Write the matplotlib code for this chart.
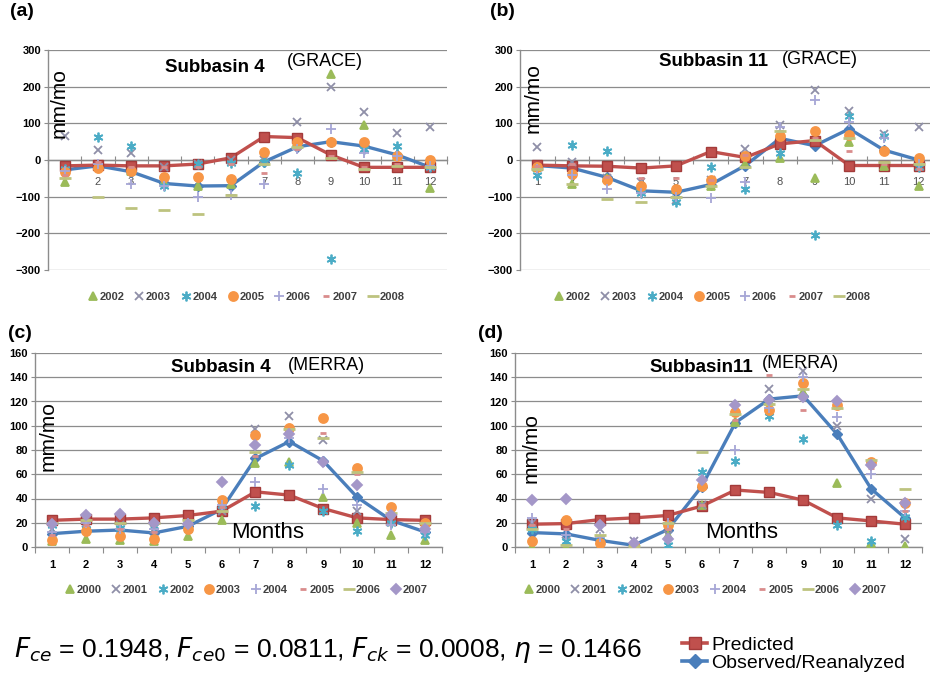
import numpy as np
import matplotlib.pyplot as plt
from matplotlib.lines import Line2D

plt.rcParams['font.family'] = ['Liberation Sans', 'DejaVu Sans']
plt.rcParams['mathtext.fontset'] = 'custom'
plt.rcParams['mathtext.rm'] = 'Liberation Sans Narrow'
plt.rcParams['mathtext.it'] = 'Liberation Sans Narrow:italic'

W, H = 930, 679

months = np.arange(1, 13)
grace_years = ['2002', '2003', '2004', '2005', '2006', '2007', '2008']
merra_years = ['2000', '2001', '2002', '2003', '2004', '2005', '2006', '2007']

# (a) Subbasin 4, GRACE
sub4_grace_pred = [-16, -14, -16, -16, -11, 6, 64, 61, 14, -20, -20, -20]
sub4_grace_obs = [-27, -16, -32, -64, -71, -70, -5, 36, 50, 38, 14, -20]
sub4_grace_years = [
    [-60, -15, -30, -60, -70, -65, 0, 50, 235, 95, 10, -75],
    [65, 28, 18, -20, -10, 0, 0, 104, 200, 130, 75, 90],
    [-25, 62, 37, -70, -10, -8, -5, -35, -270, 30, 38, -20],
    [-33, -22, -30, -45, -45, -52, 22, 48, 50, 48, 10, 0],
    [-30, -10, -65, -70, -100, -95, -65, 30, 85, 20, 10, -15],
    [-40, -5, -20, -20, -20, -10, -35, 30, 10, -20, -10, -20],
    [-50, -100, -130, -137, -148, -95, -10, 35, 5, -25, -15, -20],
]

# (b) Subbasin 11, GRACE
sub11_grace_pred = [-14, -16, -17, -22, -16, 23, 7, 44, 53, -15, -15, -15]
sub11_grace_obs = [-15, -22, -47, -84, -88, -67, -15, 59, 39, 85, 27, 0]
sub11_grace_years = [
    [-20, -65, -50, -70, -80, -70, -10, 5, -50, 50, -15, -70],
    [35, -5, -50, -60, -110, -55, 30, 95, 190, 135, 70, 90],
    [-40, 40, 25, -90, -115, -20, -80, 20, -205, 120, 65, -20],
    [-20, -38, -55, -70, -78, -55, 10, 65, 80, 68, 25, 5],
    [-25, -40, -80, -90, -100, -103, -60, 90, 165, 105, 60, -10],
    [-15, -10, -45, -50, -50, -55, 15, 80, 60, 25, -10, -25],
    [-25, -65, -105, -115, -100, -70, -20, 80, 55, 60, -5, -10],
]

# (c) Subbasin 4, MERRA
sub4_merra_pred = [22, 23, 23, 24, 26, 29.5, 45.5, 42.8, 31.7, 24, 22.6, 22]
sub4_merra_obs = [11, 13, 14, 11.6, 17, 31, 73, 87, 71, 41, 22, 12.4]
sub4_merra_years = [
    [5, 7, 6, 5, 9, 22, 69, 70, 41, 20, 10, 6],
    [15, 20, 18, 15, 18, 30, 97, 108, 88, 30, 22, 15],
    [18, 15, 16, 17, 15, 35, 34, 68, 30, 13, 20, 10],
    [6, 13, 9, 7, 15, 39, 92, 98, 106, 65, 33, 20],
    [12, 20, 15, 15, 20, 35, 54, 90, 48, 35, 18, 12],
    [10, 18, 15, 12, 20, 33, 75, 95, 94, 60, 25, 18],
    [20, 22, 20, 20, 22, 30, 78, 97, 90, 62, 28, 20],
    [19, 26, 27, 20, 19, 54, 84, 93, 70, 51, 26, 15],
]

# (d) Subbasin 11, MERRA
sub11_merra_pred = [18.8, 19.3, 22.6, 24, 26, 33.7, 47, 45, 38.6, 24, 21.5, 18.8]
sub11_merra_obs = [11.9, 10.8, 5.5, 1.4, 14.3, 49.7, 102.6, 122, 124.7, 93, 48, 24]
sub11_merra_years = [
    [0, 0, 0, 0, 10, 35, 103, 120, 128, 53, 3, 1],
    [20, 5, 15, 5, 10, 35, 115, 130, 145, 100, 40, 7],
    [15, 5, 5, 2, 2, 62, 71, 108, 89, 18, 5, 25],
    [5, 22, 3, 2, 18, 50, 111, 113, 135, 117, 70, 36],
    [24, 10, 8, 3, 20, 55, 80, 115, 140, 107, 60, 30],
    [18, 15, 20, 3, 15, 35, 105, 142, 113, 115, 65, 30],
    [15, 2, 10, 1, 20, 78, 110, 118, 130, 115, 72, 48],
    [39, 40, 18, 3, 7, 55, 117, 121, 124, 120, 68, 36],
]

stats_text = r'$F_{ce}$ = 0.1948, $F_{ce0}$ = 0.0811, $F_{ck}$ = 0.0008, $\eta$ = 0.1466'

# marker, colour, size
base_styles = [('^', '#9BBB59', 6), ('x', '#8F8FA8', 6), ((6, 2, 0), '#4BACC6', 7),
               ('o', '#F79646', 6.5), ('+', '#A6A6D6', 7)]
dash_styles = [('_', '#D98C8C', 5), ('_', '#BDC37F', 9)]
grace_styles = base_styles + dash_styles
merra_styles = base_styles + dash_styles + [('D', '#A497C8', 5)]

RED = '#C0504D'
BLUE = '#4A7EBB'
GRID = '#8C8C8C'


def fig_box(left, top, right, bottom):
    return [left / W, 1 - bottom / H, (right - left) / W, (bottom - top) / H]


def draw_panel(ax, pred, obs, years_vals, years, styles, grace):
    for vals, yr, (m, c, s) in zip(years_vals, years, styles):
        ax.plot(months, vals, linestyle='none', marker=m, color=c, markersize=s,
                mew=1.3 if m != '_' else 2.0, label=yr, zorder=4)
    ax.plot(months, obs, color=BLUE, lw=2.4, marker='D', ms=5, mfc=BLUE, mec=BLUE, zorder=3)
    ax.plot(months, pred, color=RED, lw=2.4, marker='s', ms=7, mfc=RED, mec='#A33B3A', zorder=3)

    ax.set_xlim(0.5, 12.5)
    if grace:
        ax.set_ylim(-300, 300)
        ax.set_yticks(np.arange(-300, 301, 100))
        ax.spines['bottom'].set_position(('data', 0))
    else:
        ax.set_ylim(0, 160)
        ax.set_yticks(np.arange(0, 161, 20))
    ax.yaxis.grid(True, color=GRID, lw=0.9)
    ax.set_axisbelow(True)
    for side in ['top', 'right']:
        ax.spines[side].set_visible(False)
    for side in ['left', 'bottom']:
        ax.spines[side].set_color(GRID)
        ax.spines[side].set_linewidth(1.0)

    ax.set_xticks(np.arange(0.5, 12.6, 1))
    ax.set_xticklabels([])
    ax.set_xticks(months, minor=True)
    ax.set_xticklabels([str(m) for m in months], minor=True)
    if grace:
        ax.tick_params(axis='x', which='major', direction='inout', length=6, color=GRID)
        ax.tick_params(axis='x', which='minor', length=0, pad=12, labelsize=8, labelcolor='#505050')
    else:
        ax.tick_params(axis='x', which='major', direction='out', length=4, color=GRID)
        ax.tick_params(axis='x', which='minor', length=0, pad=9, labelsize=8)
        for t in ax.get_xticklabels(minor=True):
            t.set_fontweight('bold')
    ax.tick_params(axis='y', length=3, color=GRID, pad=2, labelsize=8)
    for t in ax.get_yticklabels():
        t.set_fontweight('bold')
    ax.patch.set_alpha(0)


fig = plt.figure(figsize=(W / 100, H / 100), dpi=100)

ax_a = fig.add_axes(fig_box(48, 50, 447, 270))
ax_b = fig.add_axes(fig_box(520, 50, 936, 270))
ax_c = fig.add_axes(fig_box(35, 353, 442, 547))
ax_d = fig.add_axes(fig_box(515, 353, 922, 547))

draw_panel(ax_a, sub4_grace_pred, sub4_grace_obs, sub4_grace_years, grace_years, grace_styles, True)
draw_panel(ax_b, sub11_grace_pred, sub11_grace_obs, sub11_grace_years, grace_years, grace_styles, True)
draw_panel(ax_c, sub4_merra_pred, sub4_merra_obs, sub4_merra_years, merra_years, merra_styles, False)
draw_panel(ax_d, sub11_merra_pred, sub11_merra_obs, sub11_merra_years, merra_years, merra_styles, False)


def px_text(x, y, s, **kw):
    fig.text(x / W, 1 - y / H, s, **kw)


# panel letters
for x, y, s in [(22, 12, '(a)'), (502, 12, '(b)'), (20, 333, '(c)'), (490, 333, '(d)')]:
    px_text(x, y, s, fontsize=14, fontweight='bold', ha='center', va='center')

# titles
px_text(215, 68, 'Subbasin 4', fontsize=13.5, fontweight='bold', ha='center', va='center')
px_text(325, 61, '(GRACE)', fontsize=13, ha='center', va='center')
px_text(713, 62, 'Subbasin 11', fontsize=13.5, fontweight='bold', ha='center', va='center')
px_text(820, 60, '(GRACE)', fontsize=13, ha='center', va='center')
px_text(221, 367, 'Subbasin 4', fontsize=13.5, fontweight='bold', ha='center', va='center')
px_text(326, 365, '(MERRA)', fontsize=13, ha='center', va='center')
px_text(701, 367, 'Subbasin11', fontsize=13.5, fontweight='bold', ha='center', va='center')
px_text(800, 363, '(MERRA)', fontsize=13, ha='center', va='center')

# units / axis names drawn inside the plots
for x, y in [(59, 103), (533, 98), (48, 436), (531, 448)]:
    px_text(x, y, 'mm/mo', fontsize=15, rotation=90, ha='center', va='center')
for x, y in [(268, 533), (742, 533)]:
    px_text(x, y, 'Months', fontsize=16, ha='center', va='center')

# year legends under each panel
for ax, cx, cy in [(ax_a, 246, 297), (ax_b, 712, 297), (ax_c, 246, 590), (ax_d, 705, 590)]:
    leg = ax.legend(loc='center', bbox_to_anchor=(cx / W, 1 - cy / H), bbox_transform=fig.transFigure,
                    ncol=8, frameon=False, handlelength=0.9, handletextpad=0.15, columnspacing=0.9,
                    prop={'size': 8, 'weight': 'bold'})
    for t in leg.get_texts():
        t.set_color('#404040')

# statistics and line legend
px_text(14, 650, stats_text, fontsize=19, ha='left', va='center')
handles = [Line2D([], [], color=RED, lw=2.6, marker='s', ms=9, mfc=RED, mec='#A33B3A'),
           Line2D([], [], color=BLUE, lw=2.6, marker='D', ms=7, mfc=BLUE, mec=BLUE)]
fig.legend(handles, ['Predicted', 'Observed/Reanalyzed'], loc='upper left',
           bbox_to_anchor=(682 / W, 1 - 636 / H), frameon=False, handlelength=1.3,
           handletextpad=0.2, labelspacing=0.05, borderpad=0, borderaxespad=0,
           prop={'family': ['Liberation Sans Narrow', 'Liberation Sans'], 'size': 14})

fig.savefig('out.png', dpi=100)
